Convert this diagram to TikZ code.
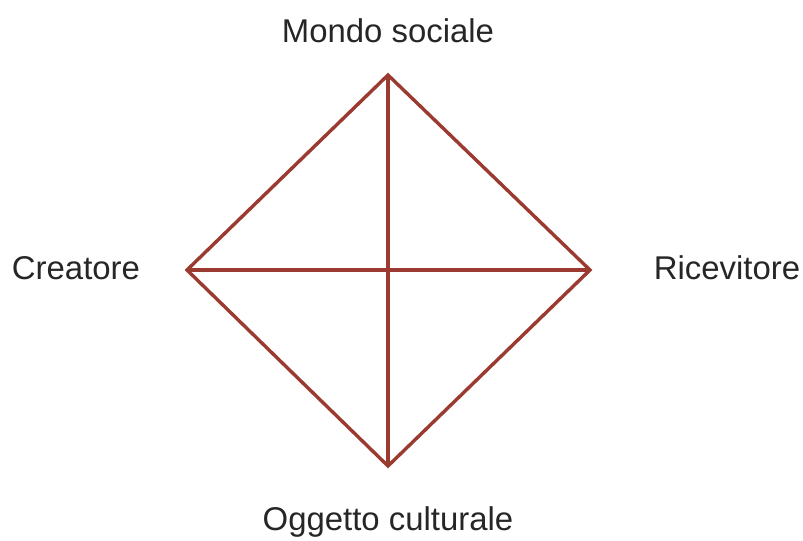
\documentclass[tikz,border=0pt]{standalone}
\usepackage{fontspec}
\setmainfont{Liberation Sans}
\usepackage{tikz}
\definecolor{rossoscuro}{RGB}{155,58,48}
\tikzset{
	etichetta/.style={font=\fontsize{23.4}{27}\selectfont, text=black!85, inner sep=0pt},
	lato/.style={line width=0.85mm, color=rossoscuro}
}

\begin{document}
\begin{tikzpicture}[x=0.025cm, y=-0.025cm]
			%%%%% START %%%%%
			
			\useasboundingbox (0, 0) rectangle (803, 540);
			
			\coordinate (alto) at (388, 75);
			\coordinate (sinistra) at (187, 270);
			\coordinate (destra) at (590, 270);
			\coordinate (basso) at (388, 466);
			
			\node[etichetta] (mondo) at (388, 31) {Mondo sociale};
			\node[etichetta] (creatore) at (76, 268) {Creatore};
			\node[etichetta] (ricevitore) at (727, 268) {Ricevitore};
			\node[etichetta] (oggetto) at (388, 522) {Oggetto culturale};
			
			\draw[lato, line join=miter] (alto) -- (destra) -- (basso) -- (sinistra) -- cycle;
			\draw[lato] (alto) -- (basso);
			\draw[lato] (sinistra) -- (destra);
			
			%%%%% END %%%%%
		\end{tikzpicture}
\end{document}
